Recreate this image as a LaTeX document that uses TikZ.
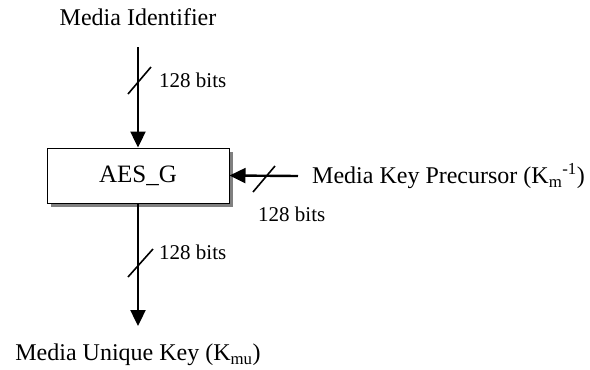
\documentclass[tikz,border=0pt]{standalone}
\usepackage{fontspec}
\setmainfont{Liberation Serif}
\usetikzlibrary{arrows.meta}
\begin{document}
\begin{tikzpicture}[x=1pt,y=-1pt,
  bus/.style={line width=2.4pt,-{Triangle[length=16pt,width=15pt]}},
  busmark/.style={line width=1.6pt},
  lbl/.style={font=\fontsize{24}{28}\selectfont,inner sep=0pt},
  bits/.style={font=\fontsize{21}{25}\selectfont,inner sep=0pt,anchor=west},
  block/.style={draw=black,line width=1pt,fill=white,minimum width=182pt,
    minimum height=55pt,inner sep=0pt,font=\fontsize{25}{30}\selectfont},
  shade/.style={fill=black!50,draw=none}]
\useasboundingbox (0,0) rectangle (590,370);

% labels
\node[lbl] (inlbl) at (138,17) {Media Identifier};
\node[lbl] (outlbl) at (138,355) {Media Unique Key (K\textsubscript{mu})};
\node[lbl,anchor=west] (keylbl) at (312,176)
  {Media Key Precursor (K\textsubscript{m}\textsuperscript{-1})};

% the AES_G block with its drop shadow
\fill[shade] (51,152) rectangle (233,207);
\node[block] (aes) at (138,175.5) {AES\_G};

% buses
\coordinate (inStart) at (138,47);
\coordinate (outTip) at (138,326);
\coordinate (keyStart) at (298,176);
\draw[bus] (inStart) -- (aes.north);
\draw[bus] (aes.south) -- (outTip);
\draw[bus] (keyStart) -- (aes.east);

% bus width marks
\coordinate (m1) at (139.5,80.5);
\coordinate (m2) at (140.5,263);
\coordinate (m3) at (264,179);
\draw[busmark] (m1) ++(-11.5,13.5) -- ++(23,-27);
\draw[busmark] (m2) ++(-12.5,14) -- ++(25,-28);
\draw[busmark] (m3) ++(-11,13) -- ++(22,-26);

\node[bits] (b1) at (159,80) {128 bits};
\node[bits] (b2) at (159,252) {128 bits};
\node[bits] (b3) at (258,214) {128 bits};
\end{tikzpicture}
\end{document}
